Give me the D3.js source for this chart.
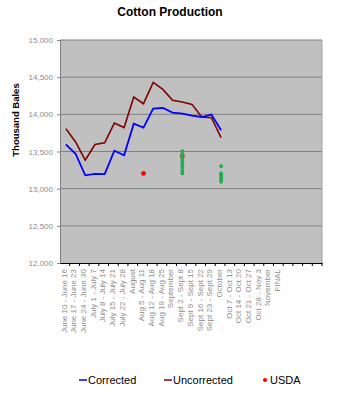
<!DOCTYPE html>
<html>
<head>
<meta charset="utf-8">
<script src="https://cdn.jsdelivr.net/npm/d3@7"></script>
<style>
  html, body { margin: 0; padding: 0; background: #fff; }
  svg { display: block; font-family: "Liberation Sans", Arial, sans-serif; }
</style>
</head>
<body>
<svg id="chart" width="338" height="400"></svg>
<script>
const categories = [
  "June 10 - June 16", "June 17 - June 23", "June 24 - June 30", "July 1 - July 7",
  "July 8 - July 14", "July 15 - July 21", "July 22 - July 28", "August",
  "Aug 5 - Aug 11", "Aug 12 - Aug 18", "Aug 19 - Aug 25", "September",
  "Sept 2 - Sept 8", "Sept 9 - Sept 15", "Sept 16 - Sept 22", "Sept 23 - Sept 29",
  "October", "Oct 7 - Oct 13", "Oct 14 - Oct 20", "Oct 21 - Oct 27",
  "Oct 28 - Nov 3", "November", "FINAL", " ", "  ", "   ", "    "
];
const corrected = [13595, 13470, 13180, 13200, 13195, 13510, 13450, 13875, 13822,
  14076, 14085, 14023, 14009, 13983, 13964, 13996, 13785];
const uncorrected = [13808, 13629, 13383, 13594, 13616, 13883, 13822, 14232, 14143,
  14429, 14335, 14188, 14165, 14134, 13964, 13955, 13687];
const usdaCats = ["Aug 5 - Aug 11", "Sept 2 - Sept 8"];
const usdaValues = [13205, 13441];
const otherCats = ["Sept 2 - Sept 8", "Sept 2 - Sept 8", "Sept 2 - Sept 8", "Sept 2 - Sept 8",
  "Sept 2 - Sept 8", "Sept 2 - Sept 8", "Sept 2 - Sept 8", "Sept 2 - Sept 8", "Sept 2 - Sept 8",
  "October", "October", "October", "October", "October", "October", "October"];
const otherValues = [13504, 13464, 13428, 13393, 13357, 13316, 13280, 13240, 13205,
  13303, 13205, 13192, 13173, 13152, 13125, 13093];
const yTicks = [12000, 12500, 13000, 13500, 14000, 14500, 15000];

const svg = d3.select("#chart");
const L = 60, R = 322, T = 40, B = 263;

const x = d3.scaleBand().domain(categories).range([L, R]).padding(0);
const y = d3.scaleLinear().domain([12000, 15000]).range([B, T]);
const cx = c => x(c) + x.bandwidth() / 2 + 1;

// title
svg.append("text").attr("x", 170).attr("y", 16).attr("text-anchor", "middle")
  .attr("font-size", 12).attr("font-weight", "bold").text("Cotton Production");

// plot background
svg.append("rect").attr("x", L).attr("y", T).attr("width", R - L).attr("height", B - T)
  .attr("fill", "#c0c0c0");

// gridlines
svg.append("g").selectAll("line").data(yTicks.filter(d => d > 12000)).join("line")
  .attr("x1", L).attr("x2", R).attr("y1", d => y(d)).attr("y2", d => y(d))
  .attr("stroke", "#808080").attr("stroke-width", 1);

// plot right border
svg.append("line").attr("x1", R).attr("x2", R).attr("y1", T).attr("y2", B)
  .attr("stroke", "#a0a0a0");

// y axis
const yAxis = svg.append("g").attr("transform", `translate(${L},0)`)
  .call(d3.axisLeft(y).tickValues(yTicks).tickFormat(d3.format(",")).tickSize(3).tickPadding(4));
yAxis.select(".domain").attr("stroke", "#808080");
yAxis.selectAll(".tick line").attr("stroke", "#808080");
yAxis.selectAll("text").attr("font-size", 8).attr("fill", "#8c8c8c")
  .attr("font-family", "Liberation Sans, Arial, sans-serif");

// x axis
const xAxis = svg.append("g").attr("transform", `translate(0,${B})`)
  .call(d3.axisBottom(x).tickSize(0).tickPadding(0));
xAxis.select(".domain").attr("stroke", "#000");
xAxis.selectAll(".tick text")
  .attr("font-size", 8).attr("fill", "#8c8c8c")
  .attr("font-family", "Liberation Sans, Arial, sans-serif")
  .attr("text-anchor", "end")
  .attr("transform", "translate(-1,6) rotate(-90)")
  .attr("dx", 0).attr("dy", "0.35em").attr("y", 0).attr("x", 0);
// tick marks between categories
svg.append("g").selectAll("line").data(categories).join("line")
  .attr("x1", d => x(d) + x.bandwidth())
  .attr("x2", d => x(d) + x.bandwidth())
  .attr("y1", B).attr("y2", B + 3).attr("stroke", "#000");

// y axis title
svg.append("text").attr("transform", "translate(19,120) rotate(-90)")
  .attr("text-anchor", "middle").attr("font-size", 9.5).attr("font-weight", "bold")
  .text("Thousand Bales");

// lines
const line = d3.line().x((d, i) => cx(categories[i])).y(d => y(d));
svg.append("path").datum(uncorrected).attr("d", line).attr("fill", "none")
  .attr("stroke", "#800000").attr("stroke-width", 1.6);
svg.append("path").datum(corrected).attr("d", line).attr("fill", "none")
  .attr("stroke", "#0000ff").attr("stroke-width", 1.8);

// USDA
svg.append("g").selectAll("circle").data(usdaValues).join("circle")
  .attr("cx", (d, i) => cx(usdaCats[i])).attr("cy", d => y(d)).attr("r", 2.4)
  .attr("fill", "#ff0000");

// other estimates (green)
svg.append("g").selectAll("circle").data(otherValues).join("circle")
  .attr("cx", (d, i) => cx(otherCats[i])).attr("cy", d => y(d)).attr("r", 1.9)
  .attr("fill", "#1fae50");

// legend
const lg = svg.append("g").attr("font-size", 11);
lg.append("line").attr("x1", 79).attr("x2", 87).attr("y1", 380).attr("y2", 380)
  .attr("stroke", "#0000ff").attr("stroke-width", 1.5);
lg.append("text").attr("x", 88).attr("y", 384).text("Corrected");
lg.append("line").attr("x1", 164).attr("x2", 172).attr("y1", 380).attr("y2", 380)
  .attr("stroke", "#800000").attr("stroke-width", 1.5);
lg.append("text").attr("x", 173).attr("y", 384).text("Uncorrected");
lg.append("circle").attr("cx", 265).attr("cy", 380).attr("r", 2).attr("fill", "#ff0000");
lg.append("text").attr("x", 270).attr("y", 384).text("USDA");
</script>
</body>
</html>
